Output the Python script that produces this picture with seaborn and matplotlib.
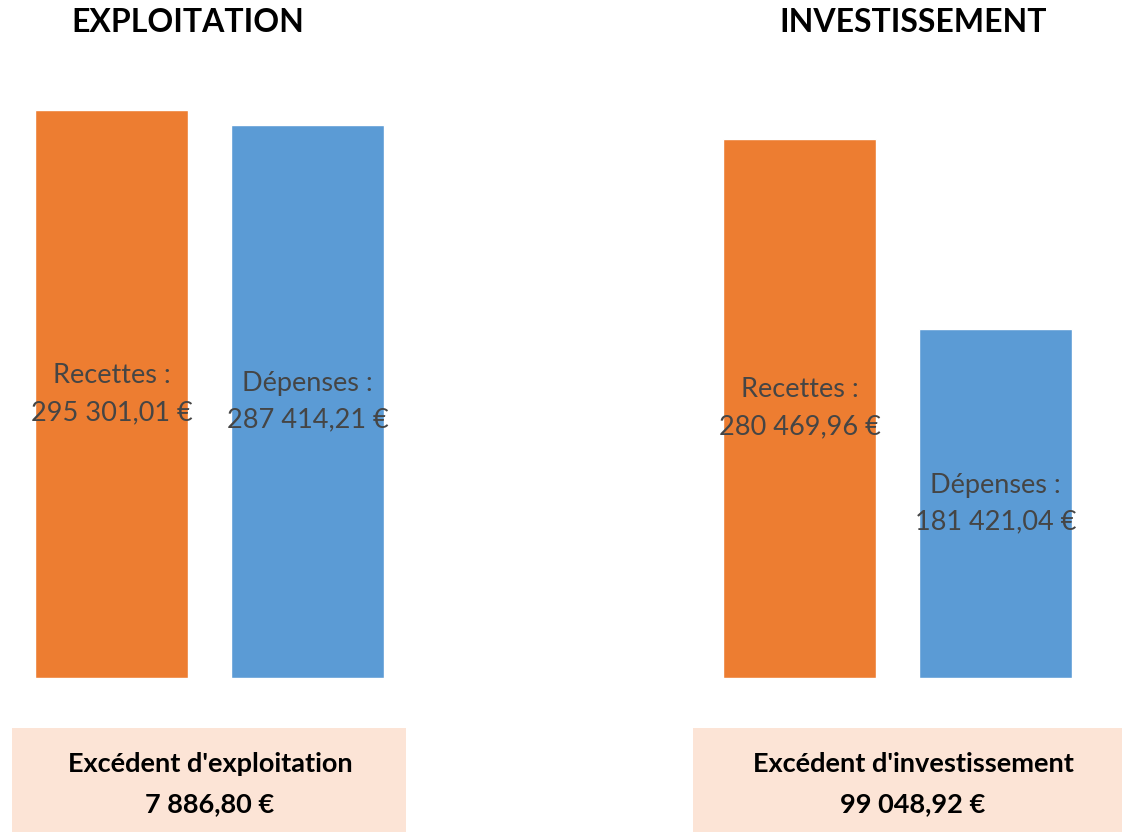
import matplotlib
matplotlib.use("Agg")
import matplotlib.pyplot as plt
import seaborn as sns
import pandas as pd
from matplotlib.patches import Rectangle

# ---- data ----
sections = ["EXPLOITATION", "INVESTISSEMENT"]
categories = ["Recettes", "Dépenses"]
exploitation_values = [295301.01, 287414.21]
investissement_values = [280469.96, 181421.04]
exploitation_labels = ["Recettes :\n295 301,01 €", "Dépenses :\n287 414,21 €"]
investissement_labels = ["Recettes :\n280 469,96 €", "Dépenses :\n181 421,04 €"]
excedent_titles = ["Excédent d'exploitation", "Excédent d'investissement"]
excedent_values = ["7 886,80 €", "99 048,92 €"]

colors = {"Recettes": "#ED7D31", "Dépenses": "#5B9BD5"}

sns.set_theme(style="white")
plt.rcParams['font.family'] = ['Lato', 'DejaVu Sans']

W, H = 1122, 832
fig = plt.figure(figsize=(W / 100, H / 100), dpi=100)

def fx(px):
    return px / W

def fy(py):
    return 1 - py / H

bottom_px = 678
ymax = 300000
px_per_unit = 568 / 295301.01
axes_h_px = ymax * px_per_unit

panels = [
    (13.5, exploitation_values, exploitation_labels),
    (701.5, investissement_values, investissement_labels),
]
title_x = [188, 913]
box_rects = [(12, 406), (693, 1122)]
box_text_x = [210, 913]

for i, (left_px, vals, labs) in enumerate(panels):
    ax = fig.add_axes([fx(left_px), fy(bottom_px), 392 / W, axes_h_px / H])
    df = pd.DataFrame({"cat": categories, "val": vals})
    sns.barplot(data=df, x="cat", y="val", hue="cat", palette=colors,
                width=0.78, ax=ax, legend=False, saturation=1)
    ax.set_xlim(-0.5, 1.5)
    ax.set_ylim(0, ymax)
    ax.axis("off")
    for j, (v, lab) in enumerate(zip(vals, labs)):
        ax.text(j, v / 2, lab, ha="center", va="center", fontsize=19.5,
                color="#454545", linespacing=1.6)
    fig.text(fx(title_x[i]), fy(23), sections[i], ha="center", va="center",
             fontsize=23, fontweight="bold", color="black")
    x0, x1 = box_rects[i]
    fig.patches.append(Rectangle((fx(x0), 0), fx(x1 - x0), fy(728), transform=fig.transFigure,
                                 facecolor="#FCE4D6", edgecolor="none", zorder=0))
    fig.text(fx(box_text_x[i]), fy(764), excedent_titles[i], ha="center", va="center",
             fontsize=19.5, fontweight="bold", color="black")
    fig.text(fx(box_text_x[i]), fy(804), excedent_values[i], ha="center", va="center",
             fontsize=19.5, fontweight="bold", color="black")

fig.savefig("out.png", dpi=100, facecolor="white")
